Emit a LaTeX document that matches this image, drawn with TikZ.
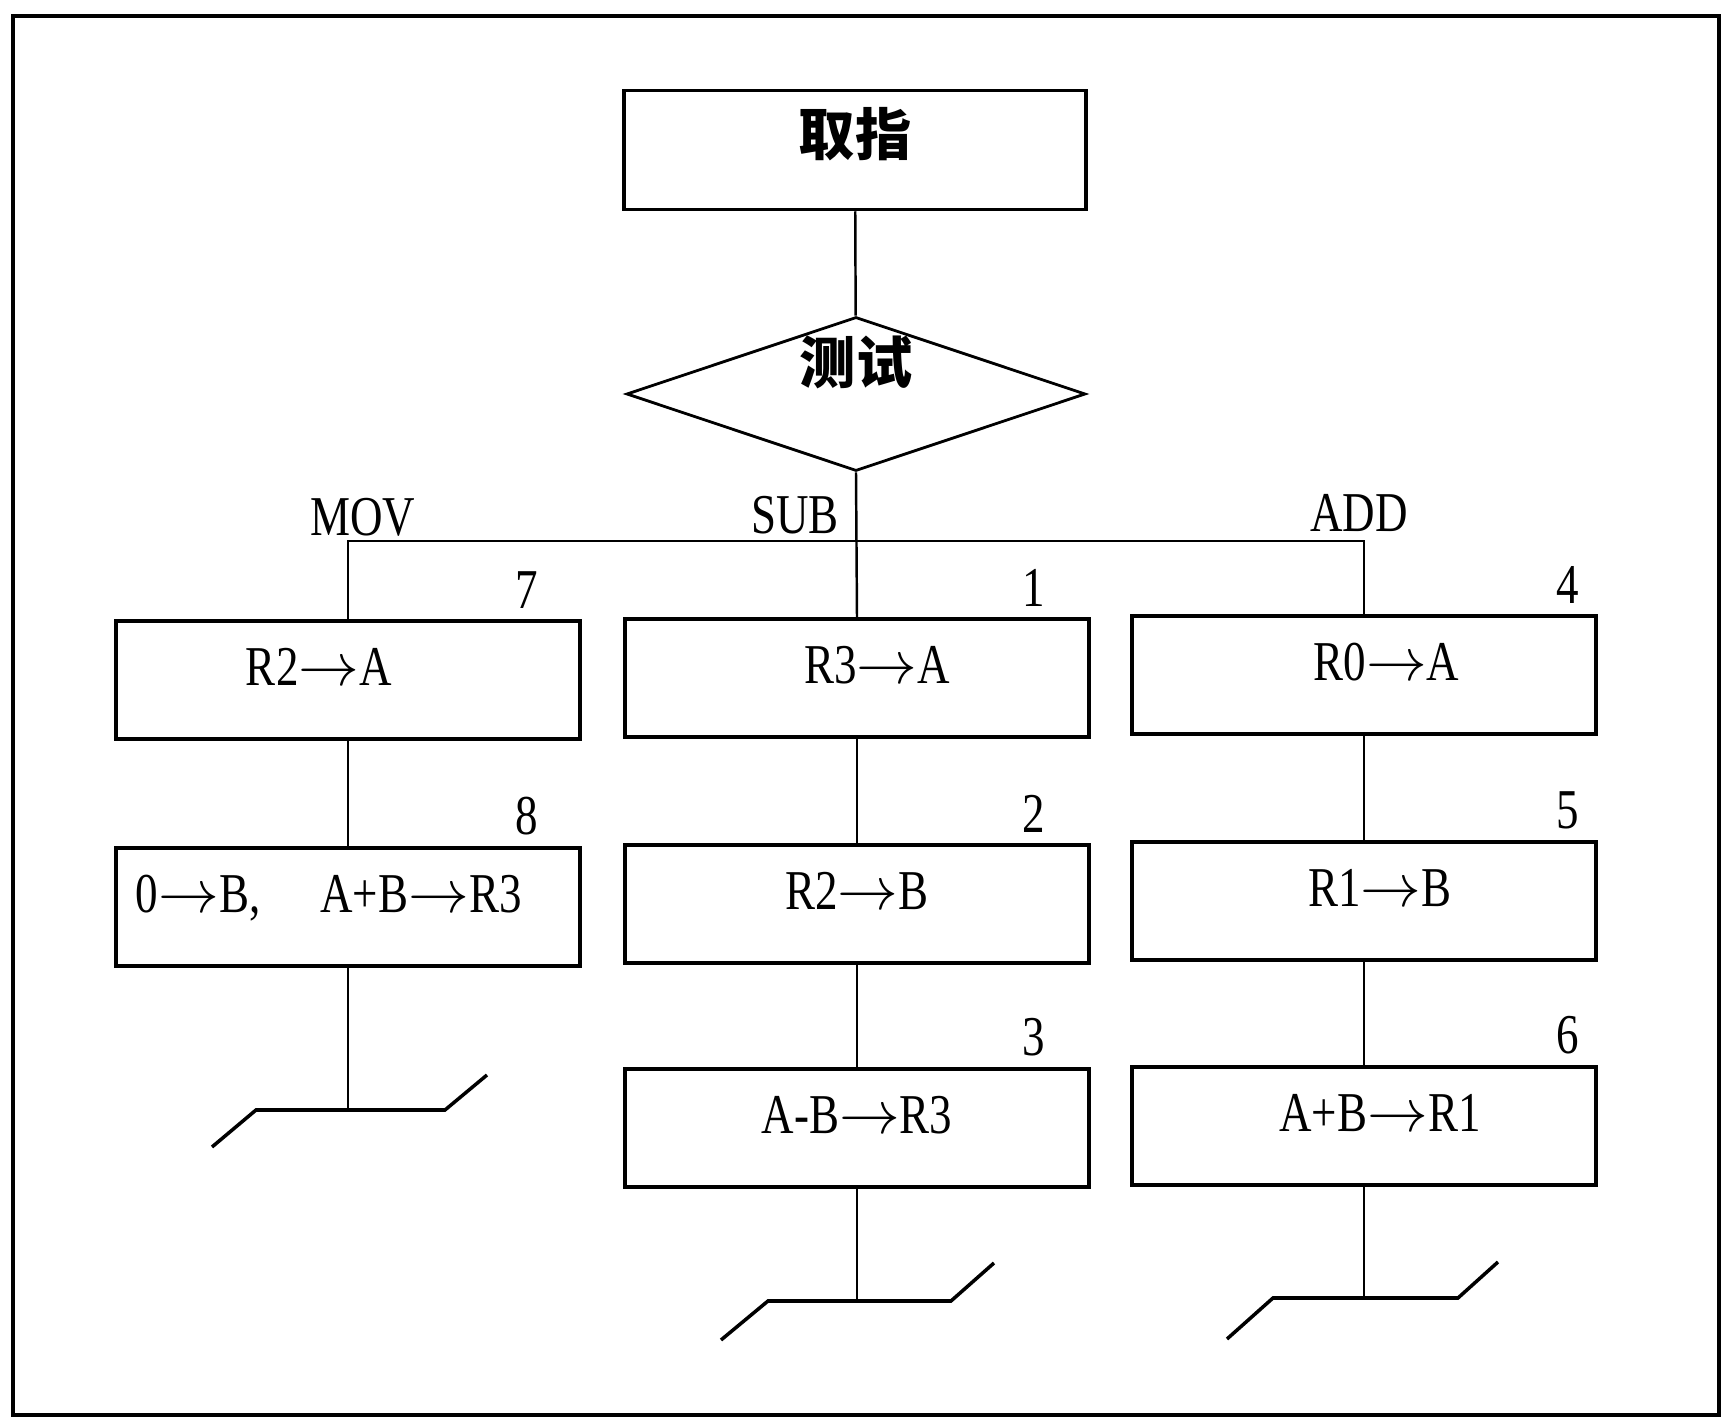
\documentclass[tikz,border=0pt]{standalone}
\usepackage{fontspec}
\setmainfont{Liberation Serif}[FakeStretch=0.8]
\newfontfamily\cjk{Noto Sans CJK SC}
\usetikzlibrary{shapes.geometric}

\newcommand{\ra}{$\rightarrow$}

\begin{document}
\begin{tikzpicture}[
  font=\fontsize{16}{19}\selectfont,
  opbox/.style={draw, line width=1pt, minimum width=4.64cm, minimum height=1.18cm, inner sep=0pt,
    text height=0.45cm, text depth=0.34cm},
  testbox/.style={draw, diamond, line width=0.8pt, minimum width=4.59cm, minimum height=1.54cm, inner sep=0pt},
  wire/.style={line width=0.7pt},
  numlbl/.style={anchor=south, inner sep=0.1cm}
]
\useasboundingbox (0,0) rectangle (17.25,-14.18);
\draw[line width=1.4pt] (0.13,-0.16) rectangle (17.19,-14.15);

% fetch and test
\node[opbox, minimum width=4.62cm, minimum height=1.19cm] (fetch) at (8.55,-1.50) {\cjk\bfseries 取指};
\node[testbox] (test) at (8.56,-3.94) {\smash{\raisebox{0.1cm}{\cjk\bfseries 测试}}};
\coordinate (bus) at (8.56,-5.41);

% MOV column
\node[opbox] (mova) at (3.48,-6.80) {\makebox[4.64cm][l]{\hspace{1.3cm}R2\ra A}};
\node[opbox] (movb) at (3.48,-9.07) {\makebox[4.64cm][l]{\hspace{0.2cm}0\ra B,\hspace{0.6cm}A+B\ra R3}};
% SUB column
\node[opbox] (suba) at (8.57,-6.78) {\hspace{0.4cm}R3\ra A};
\node[opbox] (subb) at (8.57,-9.04) {R2\ra B};
\node[opbox] (subc) at (8.57,-11.28) {A-B\ra R3\hspace{0.2cm}};
% ADD column
\node[opbox] (adda) at (13.64,-6.75) {\hspace{0.45cm}R0\ra A};
\node[opbox] (addb) at (13.64,-9.01) {\hspace{0.32cm}R1\ra B};
\node[opbox] (addc) at (13.64,-11.26) {\hspace{0.32cm}A+B\ra R1};

% branch names
\node (movlbl) at (3.63,-5.17) {MOV};
\node (sublbl) at (7.95,-5.15) {SUB};
\node (addlbl) at (13.59,-5.13) {ADD};

% step numbers
\node[numlbl] (n7) at ([xshift=-0.55cm]mova.north east) {7};
\node[numlbl] (n8) at ([xshift=-0.55cm]movb.north east) {8};
\node[numlbl] (n1) at ([xshift=-0.57cm]suba.north east) {1};
\node[numlbl] (n2) at ([xshift=-0.57cm]subb.north east) {2};
\node[numlbl] (n3) at ([xshift=-0.57cm]subc.north east) {3};
\node[numlbl] (n4) at ([xshift=-0.30cm]adda.north east) {4};
\node[numlbl] (n5) at ([xshift=-0.30cm]addb.north east) {5};
\node[numlbl] (n6) at ([xshift=-0.30cm]addc.north east) {6};

% connectors
\draw[wire] (fetch) -- (test);
\draw[wire] (test.south) -- (suba.north);
\draw[wire] (mova.north) -- (mova.north |- bus) -- (adda.north |- bus) -- (adda.north);
\draw[wire] (mova) -- (movb);
\draw[wire] (suba) -- (subb);
\draw[wire] (subb) -- (subc);
\draw[wire] (adda) -- (addb);
\draw[wire] (addb) -- (addc);

% ends
\coordinate (movend) at (3.48,-11.10);
\coordinate (subend) at (8.57,-13.01);
\coordinate (addend) at (13.64,-12.98);
\draw[wire] (movb) -- (movend);
\draw[wire] (subc) -- (subend);
\draw[wire] (addc) -- (addend);
\draw[line width=1pt] (movend) ++(-1.36,-0.37) -- ++(0.44,0.37) -- ++(1.89,0) -- ++(0.42,0.35);
\draw[line width=1pt] (subend) ++(-1.36,-0.39) -- ++(0.47,0.39) -- ++(1.83,0) -- ++(0.43,0.38);
\draw[line width=1pt] (addend) ++(-1.37,-0.41) -- ++(0.46,0.41) -- ++(1.85,0) -- ++(0.40,0.36);
\end{tikzpicture}
\end{document}
